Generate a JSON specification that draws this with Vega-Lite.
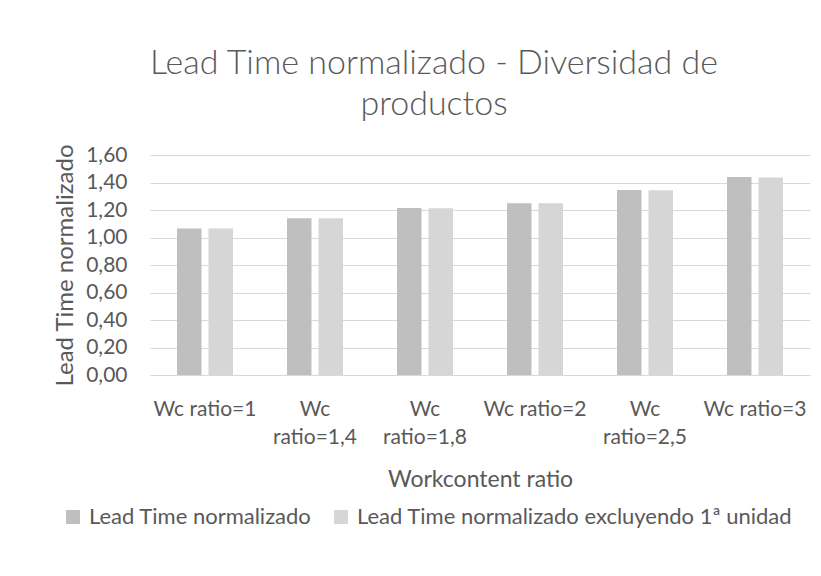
{
  "$schema": "https://vega.github.io/schema/vega-lite/v6.json",
  "width": 660,
  "height": 220,
  "autosize": {"type": "none"},
  "padding": {"left": 150, "top": 155, "right": 11, "bottom": 201},
  "background": "white",
  "config": {
    "font": "Lato",
    "view": {"stroke": null},
    "axis": {"labelColor": "#595959", "titleColor": "#595959", "labelFont": "Lato", "titleFont": "Lato", "titleFontWeight": "normal"},
    "legend": {"labelColor": "#595959", "labelFont": "Lato"}
  },
  "title": {
    "text": ["Lead Time normalizado - Diversidad de", "productos"],
    "font": "Lato",
    "fontSize": 34,
    "fontWeight": 300,
    "color": "#595959",
    "anchor": "middle",
    "dx": -46,
    "offset": 22,
    "lineHeight": 41
  },
  "data": {
    "values": [
      {"cat": "Wc ratio=1", "serie": "Lead Time normalizado", "v": 1.065},
      {"cat": "Wc ratio=1", "serie": "Lead Time normalizado excluyendo 1ª unidad", "v": 1.065},
      {"cat": "Wc ratio=1,4", "serie": "Lead Time normalizado", "v": 1.14},
      {"cat": "Wc ratio=1,4", "serie": "Lead Time normalizado excluyendo 1ª unidad", "v": 1.14},
      {"cat": "Wc ratio=1,8", "serie": "Lead Time normalizado", "v": 1.215},
      {"cat": "Wc ratio=1,8", "serie": "Lead Time normalizado excluyendo 1ª unidad", "v": 1.212},
      {"cat": "Wc ratio=2", "serie": "Lead Time normalizado", "v": 1.25},
      {"cat": "Wc ratio=2", "serie": "Lead Time normalizado excluyendo 1ª unidad", "v": 1.25},
      {"cat": "Wc ratio=2,5", "serie": "Lead Time normalizado", "v": 1.345},
      {"cat": "Wc ratio=2,5", "serie": "Lead Time normalizado excluyendo 1ª unidad", "v": 1.343},
      {"cat": "Wc ratio=3", "serie": "Lead Time normalizado", "v": 1.44},
      {"cat": "Wc ratio=3", "serie": "Lead Time normalizado excluyendo 1ª unidad", "v": 1.437}
    ]
  },
  "mark": {"type": "bar"},
  "encoding": {
    "x": {
      "field": "cat",
      "type": "nominal",
      "sort": null,
      "scale": {"paddingInner": 0, "paddingOuter": 0},
      "axis": {
        "title": "Workcontent ratio",
        "titleFontSize": 23,
        "titlePadding": 21,
        "labelAngle": 0,
        "labelFontSize": 21,
        "labelExpr": "length(datum.label) > 10 ? split(datum.label, ' ') : datum.label",
        "labelLineHeight": 28,
        "labelPadding": 23,
        "labelBaseline": "top",
        "domain": true,
        "domainColor": "#d9d9d9",
        "ticks": false,
        "grid": false
      }
    },
    "xOffset": {
      "field": "serie",
      "sort": null,
      "scale": {"paddingInner": 0.222, "paddingOuter": 0.857}
    },
    "y": {
      "field": "v",
      "type": "quantitative",
      "scale": {"domain": [0, 1.6]},
      "axis": {
        "title": "Lead Time normalizado",
        "titleFontSize": 24,
        "titlePadding": 8,
        "values": [0, 0.2, 0.4, 0.6, 0.8, 1.0, 1.2, 1.4, 1.6],
        "labelExpr": "replace(format(datum.value, '.2f'), '.', ',')",
        "labelFontSize": 21,
        "labelPadding": 23,
        "domain": false,
        "ticks": false,
        "grid": true,
        "gridColor": "#d9d9d9",
        "gridWidth": 1
      }
    },
    "color": {
      "field": "serie",
      "type": "nominal",
      "sort": null,
      "scale": {"range": ["#bfbfbf", "#d6d6d6"]},
      "legend": {
        "title": null,
        "orient": "none",
        "direction": "horizontal",
        "legendX": -88,
        "legendY": 351,
        "symbolType": "square",
        "symbolSize": 196,
        "symbolStrokeWidth": 0,
        "labelFontSize": 22,
        "labelOffset": 5,
        "columnPadding": 18,
        "labelLimit": 700
      }
    }
  }
}
